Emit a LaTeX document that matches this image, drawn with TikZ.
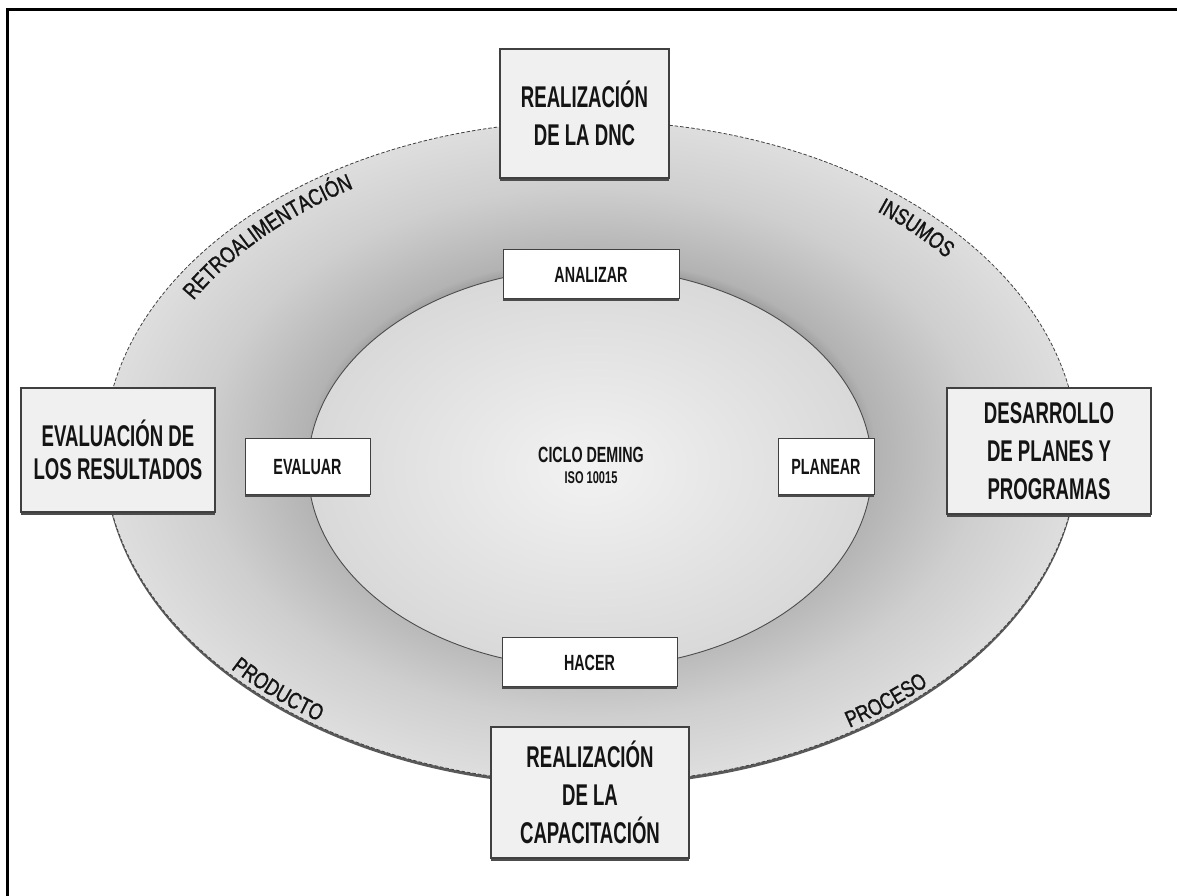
\documentclass[tikz,border=0pt]{standalone}
\usepackage{fontspec}
\setmainfont{Liberation Sans}
\newfontfamily\boxfont[FakeStretch=0.62]{Liberation Sans}
\newfontfamily\tagfont[FakeStretch=0.65]{Liberation Sans}
\newfontfamily\arcfont[FakeStretch=0.78, FakeBold=1.2]{Liberation Sans}
\usetikzlibrary{shadows,decorations.text}

% grey tones of the ring and of the core
\definecolor{ringcore}{gray}{0.55}
\definecolor{ringinner}{gray}{0.70}
\definecolor{ringmid}{gray}{0.81}
\definecolor{ringlight}{gray}{0.87}
\definecolor{coredark}{gray}{0.85}
\definecolor{corelight}{gray}{0.95}

\pgfdeclareradialshading{ringshade}{\pgfpoint{0bp}{0bp}}{color(0bp)=(ringcore); color(13.2bp)=(ringcore); color(14.6bp)=(ringinner); color(20bp)=(ringmid); color(25bp)=(ringlight); color(50bp)=(ringlight)}
\pgfdeclareradialshading{coreshade}{\pgfpoint{0bp}{0bp}}{color(0bp)=(corelight); color(25bp)=(coredark); color(50bp)=(coredark)}

\begin{document}
\begin{tikzpicture}[x=1pt,y=1pt,
  bigbox/.style={rectangle, draw=black!75, line width=1.1pt, fill=black!6, inner sep=0pt,
    align=center, text=black!92, font=\boxfont\bfseries\fontsize{30}{38}\selectfont,
    general shadow={fill=black!70, shadow yshift=-3pt}},
  tagbox/.style={rectangle, draw=black!75, line width=1pt, fill=white, inner sep=0pt,
    text=black!92, font=\tagfont\bfseries\fontsize{22}{26}\selectfont,
    general shadow={fill=black!70, shadow yshift=-2.5pt}},
  arclabel/.style={decorate, decoration={text along path, text align=center, text color=black!92}}
]
\useasboundingbox (0,0) rectangle (1177,896);

% frame along the left and top edges
\draw[line width=3pt] (7.5,0) -- (7.5,886.5) -- (1177,886.5);

% outer ring: dark rim below, shaded body, fine outline
\fill[black!65] (591,441) ellipse [x radius=487pt, y radius=331pt];
\shade[shading=ringshade] (591,444) ellipse [x radius=487pt, y radius=331pt];
\draw[black!75, line width=0.8pt, dash pattern=on 3.5pt off 2pt] (591,444) ellipse [x radius=487pt, y radius=331pt];

% inner core of the cycle
\shade[shading=coreshade] (590,428) ellipse [x radius=282pt, y radius=200pt];
\draw[black!70, line width=0.9pt] (590,428) ellipse [x radius=282pt, y radius=200pt];

% words written along the ring
\path[arclabel, decoration={text={|\arcfont\fontsize{23}{27}\selectfont|RETROALIMENTACIÓN}}]
  ([shift={(591,444)}]164:456pt and 309pt) arc [start angle=164, end angle=111, x radius=456pt, y radius=309pt];
\path[arclabel, decoration={text={|\arcfont\fontsize{23}{27}\selectfont|INSUMOS}}]
  ([shift={(591,444)}]58:456pt and 309pt) arc [start angle=58, end angle=31, x radius=456pt, y radius=309pt];
\path[arclabel, decoration={text={|\arcfont\fontsize{23}{27}\selectfont|PRODUCTO}}]
  ([shift={(591,444)}]213:481pt and 327pt) arc [start angle=213, end angle=243, x radius=481pt, y radius=327pt];
\path[arclabel, decoration={text={|\arcfont\fontsize{23}{27}\selectfont|PROCESO}}]
  ([shift={(591,444)}]295:481pt and 327pt) arc [start angle=295, end angle=323, x radius=481pt, y radius=327pt];

% centre title
\node[font=\tagfont\bfseries\fontsize{22}{26}\selectfont, text=black!92] (ciclo) at (591,441) {CICLO DEMING};
\node[font=\tagfont\bfseries\fontsize{17}{20}\selectfont, text=black!92] (iso) at (591,418) {ISO 10015};

% the four steps of the cycle
\node[tagbox, minimum width=176pt, minimum height=49pt] (analizar) at (591,621.5) {ANALIZAR};
\node[tagbox, minimum width=125pt, minimum height=56pt] (evaluar) at (307.5,429) {EVALUAR};
\node[tagbox, minimum width=96pt, minimum height=56pt] (planear) at (826,429) {PLANEAR};
\node[tagbox, minimum width=175pt, minimum height=49pt] (hacer) at (589.5,233.5) {HACER};

% the four stages of training
\node[bigbox, minimum width=169pt, minimum height=129pt] (dnc) at (584.5,782.5) {REALIZACIÓN\\DE LA DNC};
\node[bigbox, minimum width=194pt, minimum height=124pt, font=\boxfont\bfseries\fontsize{30}{33}\selectfont] (resultados) at (118,446) {EVALUACIÓN DE\\LOS RESULTADOS};
\node[bigbox, minimum width=204pt, minimum height=126pt] (planes) at (1049,445) {DESARROLLO\\DE PLANES Y\\PROGRAMAS};
\node[bigbox, minimum width=198pt, minimum height=131pt] (capacitacion) at (590,103.5) {REALIZACIÓN\\DE LA\\CAPACITACIÓN};
\end{tikzpicture}
\end{document}
